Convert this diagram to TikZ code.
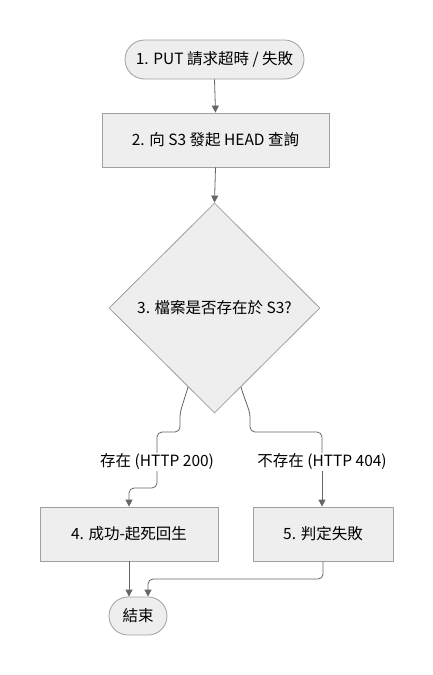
\documentclass[tikz,border=0pt]{standalone}
\usepackage{fontspec}
\setmainfont{Noto Sans CJK TC}
\usetikzlibrary{shapes.geometric,arrows.meta,calc}
\definecolor{boxfill}{HTML}{EEEEEE}
\definecolor{boxdraw}{HTML}{A0A0A0}
\definecolor{linecol}{HTML}{666666}
\tikzset{
  base/.style={draw=boxdraw, fill=boxfill, line width=0.8pt, font=\fontsize{15.5}{18}\selectfont, text=black, inner sep=0pt},
  procbox/.style={base, rectangle, minimum height=54pt},
  stadium/.style={base, rectangle, rounded corners=19pt, minimum height=38pt},
  decision/.style={base, diamond, aspect=1, minimum width=211pt, minimum height=210pt},
  lbl/.style={font=\fontsize{15.5}{18}\selectfont, fill=white, inner sep=1pt},
  conn/.style={draw=linecol, line width=0.8pt},
  arr/.style={conn, -{Triangle[width=7pt,length=7pt]}},
}
\begin{document}
\begin{tikzpicture}[x=1pt,y=-1pt]
\useasboundingbox (0,0) rectangle (432,675);
\fill[white] (0,0) rectangle (432,675);
\node[stadium, minimum width=179pt, rounded corners=19.5pt, minimum height=39pt] (n1) at (214.5,59.5) {1. PUT 請求超時 / 失敗};
\node[procbox, minimum width=227pt] (n2) at (215.5,140) {2. 向 S3 發起 HEAD 查詢};
\node[decision] (d) at (214.5,308) {3. 檔案是否存在於 S3?};
\node[lbl] (l1) at (157,462) {存在 (HTTP 200)};
\node[lbl] (l2) at (322,462) {不存在 (HTTP 404)};
\node[procbox, minimum width=178pt] (n4) at (129,534) {4. 成功-起死回生};
\node[procbox, minimum width=140pt] (n5) at (323,534) {5. 判定失敗};
\node[stadium, minimum width=58pt] (e) at (138,616) {結束};
\coordinate (dl) at ($(d.west)!0.75!(d.south)$);
\coordinate (dr) at ($(d.east)!0.75!(d.south)$);
\coordinate (e2) at ($(e.north)+(10,0)$);
\draw[arr] (n1.south) -- (n2.north);
\draw[arr] (n2.south) -- (d.north);
\draw[conn, rounded corners=5pt] (dl) .. controls ($(dl)+(-4,14)$) and (180,410) .. (180,422) -- (180,432) -- (l1.north |- 0,432) -- (l1.north);
\draw[conn, rounded corners=5pt] (dr) .. controls ($(dr)+(4,14)$) and (250,410) .. (250,422) -- (250,432) -- (l2.north |- 0,432) -- (l2.north);
\draw[arr, rounded corners=5pt] (l1.south) -- (l1.south |- 0,488) -- (n4.north |- 0,488) -- (n4.north);
\draw[arr] (l2.south) -- (l2.south |- n5.north);
\draw[arr] (n4.south) -- (n4.south |- e.north);
\draw[arr, rounded corners=5pt] (n5.south) -- (n5.south |- 0,579) -- (e2 |- 0,579) -- (e2);
\end{tikzpicture}
\end{document}
